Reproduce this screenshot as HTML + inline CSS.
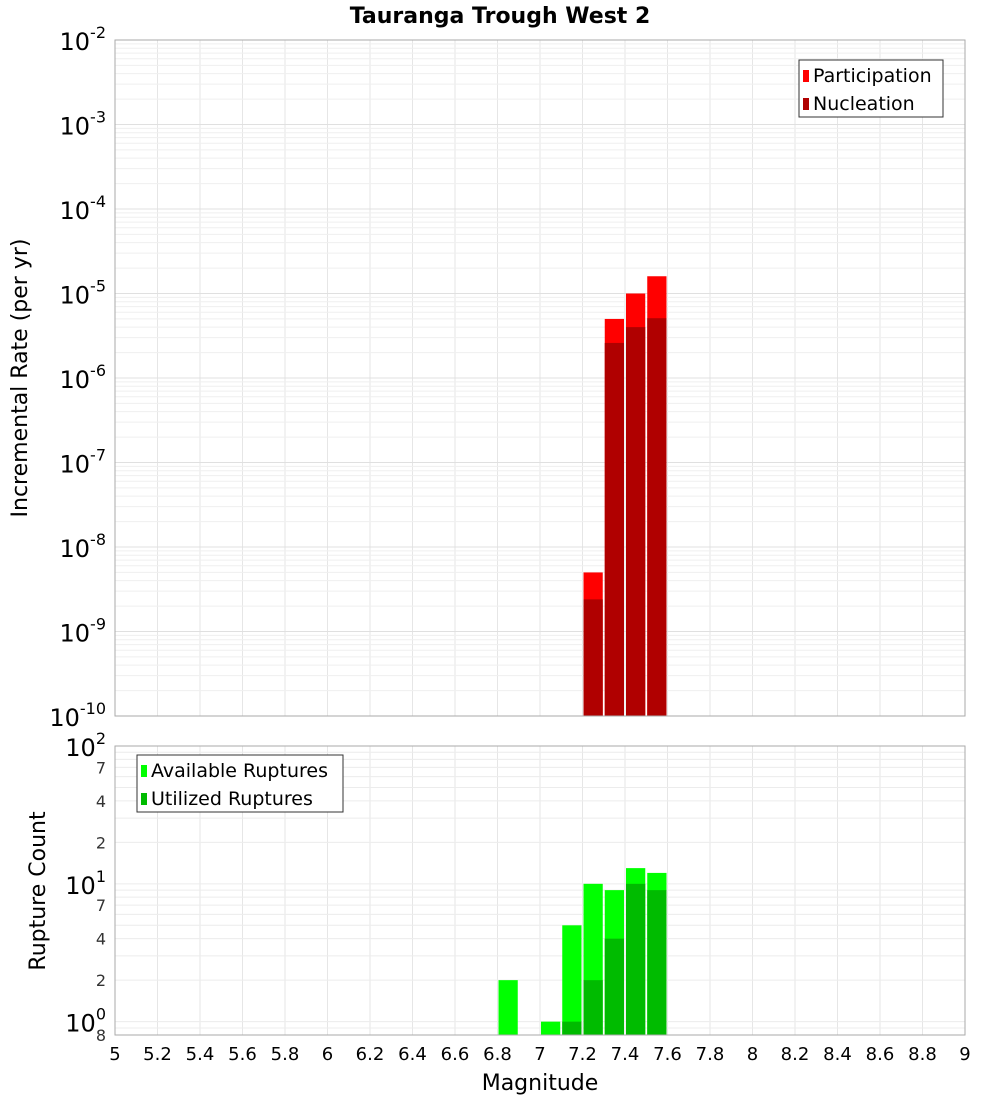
<!DOCTYPE html>
<html><head><meta charset="utf-8"><style>body{margin:0;background:#fff}svg{font-family:"DejaVu Sans","Liberation Sans",sans-serif}</style></head>
<body>
<svg id="c" width="1000" height="1100" xmlns="http://www.w3.org/2000/svg">
<text x="500" y="23" text-anchor="middle" font-size="22" font-weight="bold">Tauranga Trough West 2</text>
<g id="topPlot"></g>
<g id="botPlot"></g>
<text transform="translate(27,378) rotate(-90)" text-anchor="middle" font-size="22">Incremental Rate (per yr)</text>
<text transform="translate(45,891) rotate(-90)" text-anchor="middle" font-size="22">Rupture Count</text>
<text x="540" y="1090" text-anchor="middle" font-size="22">Magnitude</text>
</svg>
<script>
const mags=[7.25,7.35,7.45,7.55];
const participation=[5e-9,5e-6,1e-5,1.6e-5];
const nucleation=[2.4e-9,2.6e-6,4e-6,5.1e-6];
const countMags=[6.85,7.05,7.15,7.25,7.35,7.45,7.55];
const available=[2,1,5,10,9,13,12];
const utilized=[0,0,1,2,4,10,9];
const xTicks=["5","5.2","5.4","5.6","5.8","6","6.2","6.4","6.6","6.8","7","7.2","7.4","7.6","7.8","8","8.2","8.4","8.6","8.8","9"];
const NS="http://www.w3.org/2000/svg";
const L=115,R=965;
const xs=m=>L+(m-5)/4*(R-L);
const T1=40,B1=716;const y1=v=>B1-(Math.log10(v)+10)/8*(B1-T1);
const T2=746,B2=1035,lo=Math.log10(0.8);const y2=v=>B2-(Math.log10(v)-lo)/(2-lo)*(B2-T2);
function el(p,t,a,txt){const e=document.createElementNS(NS,t);for(const k in a)e.setAttribute(k,a[k]);if(txt!==undefined)e.textContent=txt;p.appendChild(e);return e;}
const gTop=document.getElementById('topPlot'),gBot=document.getElementById('botPlot');
function frame(g,T,B){el(g,'rect',{x:L,y:T,width:R-L,height:B-T,fill:'#fff',stroke:'none'});
 xTicks.forEach(t=>{const x=xs(+t);const l=el(g,'line',{x1:x,x2:x,y1:T,y2:B,stroke:'#e6e6e6'});});}
frame(gTop,T1,B1);
for(let d=-10;d<-2;d++)for(let k=1;k<10;k++){const y=y1(k*Math.pow(10,d));el(gTop,'line',{x1:L,x2:R,y1:y,y2:y,stroke:k==1?'#e0e0e0':'#efefef'});}
frame(gBot,T2,B2);
[0.8,0.9,1,2,3,4,5,6,7,8,9,10,20,30,40,50,60,70,80,90].forEach(v=>{const y=y2(v);el(gBot,'line',{x1:L,x2:R,y1:y,y2:y,stroke:'#ececec'});});
const bw=(R-L)/40;
mags.forEach((m,i)=>{const x=xs(m)-bw/2+1;
 let r=el(gTop,'rect',{x:x,y:y1(participation[i]),width:bw-2,height:B1-y1(participation[i]),fill:'#ff0000'});
 
 
 r=el(gTop,'rect',{x:x,y:y1(nucleation[i]),width:bw-2,height:B1-y1(nucleation[i]),fill:'#b00000'});
 
 });
countMags.forEach((m,i)=>{const x=xs(m)-bw/2+1;
 let r=el(gBot,'rect',{x:x,y:y2(available[i]),width:bw-2,height:B2-y2(available[i]),fill:'#00ff00'});
 
 
 if(utilized[i]>0){r=el(gBot,'rect',{x:x,y:y2(utilized[i]),width:bw-2,height:B2-y2(utilized[i]),fill:'#00bb00'});
 
 }});
el(gTop,'rect',{x:L,y:T1,width:R-L,height:B1-T1,fill:'none',stroke:'#aaa'});
el(gBot,'rect',{x:L,y:T2,width:R-L,height:B2-T2,fill:'none',stroke:'#aaa'});
for(let d=-10;d<=-2;d++){const y=y1(Math.pow(10,d));const t=el(gTop,'text',{x:106,y:y+10,'text-anchor':'end','font-size':24});
 
 
 t.textContent='10';el(t,'tspan',{dy:-12,'font-size':16},String(d));}
[[100,'10','2'],[10,'10','1'],[1,'10','0']].forEach(a=>{const y=y2(a[0]);const t=el(gBot,'text',{x:106,y:y+10,'text-anchor':'end','font-size':24});
 
 
 t.textContent=a[1];el(t,'tspan',{dy:-12,'font-size':16},a[2]);});
[[70,'7'],[40,'4'],[20,'2'],[7,'7'],[4,'4'],[2,'2'],[0.8,'8']].forEach(a=>{const t=el(gBot,'text',{x:106,y:y2(a[0])+6,'text-anchor':'end','font-size':16,fill:'#333'},a[1]);
 
 });
xTicks.forEach(t=>{const e=el(gBot,'text',{x:xs(+t),y:1060,'text-anchor':'middle','font-size':18},t);
 
 });
function legend(g,x,y,w,items){const lg=el(g,'g',{});
 
 
 el(lg,'rect',{x:x,y:y,width:w,height:57,fill:'#fff',stroke:'#333'});
 items.forEach((it,i)=>{el(lg,'rect',{x:x+4,y:y+10+i*28,width:6,height:12,fill:it[1]});const t=el(lg,'text',{x:x+14,y:y+22+i*28,'font-size':19},it[0]);
 
 });}
legend(gTop,799,60,144,[['Participation','#ff0000'],['Nucleation','#b00000']]);
legend(gBot,137,755,206,[['Available Ruptures','#00ff00'],['Utilized Ruptures','#00bb00']]);
</script>
</body></html>
